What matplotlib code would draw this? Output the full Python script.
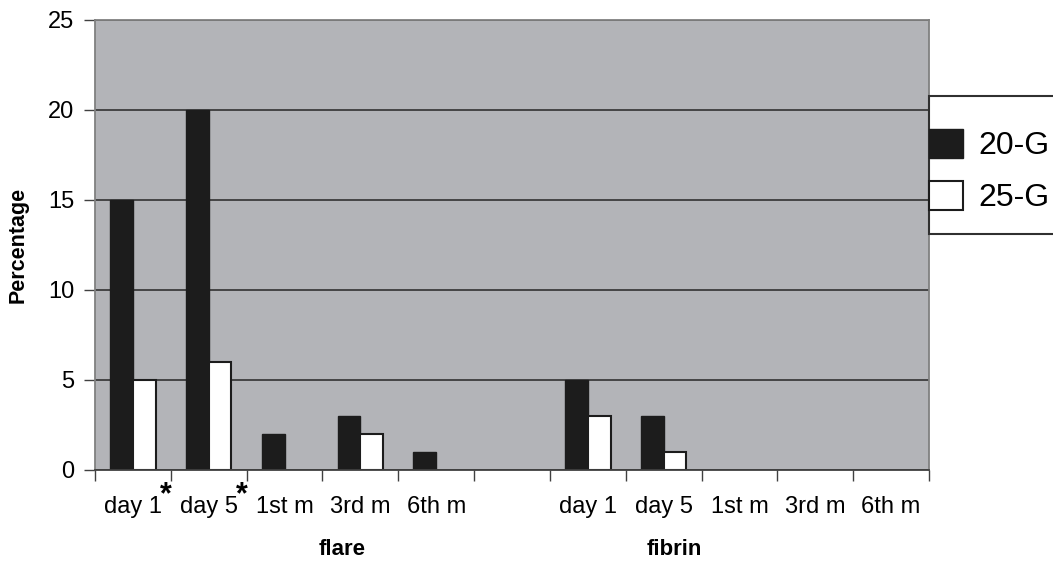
import matplotlib
matplotlib.use('Agg')
import matplotlib.pyplot as plt
import matplotlib.patches as patches
import numpy as np

plt.rcParams['font.family'] = ['Liberation Sans', 'DejaVu Sans']

# Data
categories = ['day 1', 'day 5', '1st m', '3rd m', '6th m', '',
              'day 1', 'day 5', '1st m', '3rd m', '6th m']
g20 = [15, 20, 2, 3, 1, 0, 5, 3, 0, 0, 0]
g25 = [5, 6, 0, 2, 0, 0, 3, 1, 0, 0, 0]
starred = [0, 1]          # categories marked with *
groups = ['flare', 'fibrin']
group_pos = [2.76, 7.14]

W, H = 1053, 563
fig = plt.figure(figsize=(W / 100, H / 100), dpi=100)
ax = fig.add_axes([95 / W, (H - 470) / H, 834 / W, 450 / H])

x = np.arange(len(categories))
bw = 0.3
ax.set_facecolor('#b3b4b8')
ax.set_axisbelow(True)
ax.yaxis.grid(True, color='#3c3c3c', linewidth=1.3)

# zero-height bars are not drawn in the original
b1 = ax.bar(x - bw / 2, g20, bw, color='#1c1c1c', edgecolor='#1c1c1c',
            linewidth=1, label='20-G')
b2 = ax.bar(x + bw / 2, g25, bw, color='white', edgecolor='#1c1c1c',
            linewidth=1.5, label='25-G')
for bars in (b1, b2):
    for r in bars:
        if r.get_height() == 0:
            r.set_visible(False)

ax.set_xlim(-0.5, len(categories) - 0.5)
ax.set_ylim(0, 25)
ax.set_yticks(np.arange(0, 26, 5))
ax.tick_params(axis='y', direction='out', length=8, width=1,
               color='#404040', labelsize=17, pad=7)

ax.set_xticks(x)
ax.set_xticklabels(categories)
ax.set_xticks(np.arange(-0.5, len(categories), 1), minor=True)
ax.tick_params(axis='x', which='major', length=0, labelsize=17, pad=19)
ax.tick_params(axis='x', which='minor', direction='out', length=8,
               width=1, color='#404040')

for s in ['top', 'right', 'left']:
    ax.spines[s].set_color('#808080')
    ax.spines[s].set_linewidth(1.3)
ax.spines['bottom'].set_color('#404040')
ax.spines['bottom'].set_linewidth(1.3)

# asterisks after the starred labels (superscript-like)
for i in starred:
    ax.text(i + 0.43, -0.55, '*', fontsize=22, fontweight='bold',
            ha='center', va='top', clip_on=False)

ax.set_ylabel('Percentage', fontsize=15.5, fontweight='bold')
ax.yaxis.set_label_coords(-0.080, 0.5)

for name, gx in zip(groups, group_pos):
    ax.text(gx, -4.4, name, fontsize=16, fontweight='bold',
            ha='center', va='center', clip_on=False)

# legend box (runs off the right edge, as in the original)
frame = patches.Rectangle((929 / W, (H - 234) / H), 140 / W, 138 / H,
                          transform=fig.transFigure, facecolor='white',
                          edgecolor='#303030', linewidth=1.5, zorder=5)
fig.patches.append(frame)
leg = fig.legend(handles=[b1, b2], loc='center left',
                 bbox_to_anchor=(929 / W, (H - 171) / H),
                 frameon=False, fontsize=23, handlelength=1.05,
                 handleheight=1.05, handletextpad=0.5, labelspacing=0.6,
                 borderpad=0, borderaxespad=0)
leg.set_zorder(6)

fig.savefig('out.png', dpi=100, facecolor='white')
